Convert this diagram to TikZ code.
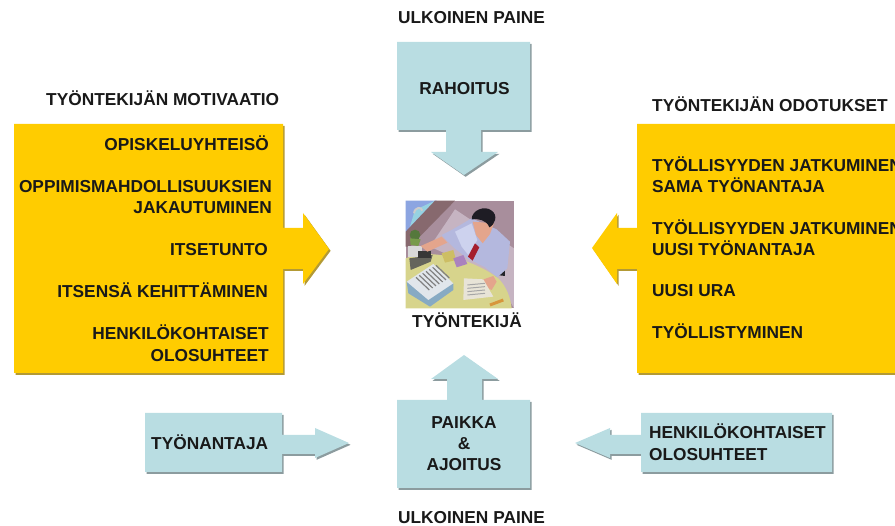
\documentclass[tikz,border=0pt]{standalone}
\usepackage{fontspec}
\setmainfont{Liberation Sans}
\definecolor{gold}{HTML}{FFCC00}
\definecolor{teal1}{HTML}{B9DDE2}
\definecolor{shadowgold}{HTML}{B39A35}
\definecolor{shadowteal}{HTML}{8C9C9F}
\tikzset{
  lbl/.style={font=\fontsize{17.3}{20}\selectfont\bfseries, inner sep=0pt, text=black!90, yshift=-0.4pt},
  goldshape/.style={fill=gold, draw=none},
  tealshape/.style={fill=teal1, draw=none},
  goldshadow/.style={fill=shadowgold, draw=none},
  tealshadow/.style={fill=shadowteal, draw=none},
}
\newcommand{\lshape}{(14,124) -- (283,124) -- (283,228) -- (303,228) -- (303,213) -- (329,249) -- (303,284) -- (303,269) -- (283,269) -- (283,373) -- (14,373) -- cycle}
\newcommand{\rshape}{(895,124) -- (637,124) -- (637,228) -- (617,228) -- (617,213) -- (592,248) -- (617,284) -- (617,269) -- (637,269) -- (637,373) -- (895,373) -- cycle}
\newcommand{\tshape}{(397,42) -- (530,42) -- (530,130) -- (481,130) -- (481,152) -- (498,152) -- (464,175) -- (431,152) -- (446,152) -- (446,130) -- (397,130) -- cycle}
\newcommand{\bshape}{(397,400) -- (447,400) -- (447,379) -- (431,379) -- (464,355) -- (498,379) -- (482,379) -- (482,400) -- (530,400) -- (530,488) -- (397,488) -- cycle}
\newcommand{\eshape}{(145,413) -- (282,413) -- (282,435) -- (315,435) -- (315,428) -- (349,443) -- (315,458) -- (315,454) -- (282,454) -- (282,472) -- (145,472) -- cycle}
\newcommand{\hshape}{(832,413) -- (641,413) -- (641,435) -- (610,435) -- (610,428) -- (575,443) -- (610,458) -- (610,454) -- (641,454) -- (641,472) -- (832,472) -- cycle}
\begin{document}
\begin{tikzpicture}[x=1pt,y=-1pt]
\useasboundingbox (0,0) rectangle (895,526);
% shapes
\begin{scope}[shift={(1.6,1.8)}]
  \fill[goldshadow] \lshape; \fill[goldshadow] \rshape;
  \fill[tealshadow] \tshape; \fill[tealshadow] \bshape;
  \fill[tealshadow] \eshape; \fill[tealshadow] \hshape;
\end{scope}
\fill[goldshape] \lshape; \fill[goldshape] \rshape;
\fill[tealshape] \tshape; \fill[tealshape] \bshape;
\fill[tealshape] \eshape; \fill[tealshape] \hshape;
% clip art
\begin{scope}[shift={(390,190)},x=0.3333pt,y=-0.3333pt]
  \clip (47,32) rectangle (372,355);
  \fill[fill={rgb,255:red,168;green,142;blue,156}] (47,32) rectangle (372,355);
  \fill[fill={rgb,255:red,198;green,180;blue,194}] (195,58) -- (372,175) -- (372,355) -- (320,260) -- (120,170) -- cycle;
  \fill[fill={rgb,255:red,140;green,165;blue,225}] (47,32) -- (140,32) -- (47,125) -- cycle;
  \fill[fill={rgb,255:red,150;green,210;blue,225}] (75,60) -- (135,32) -- (60,110) -- cycle;
  \fill[fill={rgb,255:red,135;green,105;blue,110}] (135,32) -- (195,32) -- (60,170) -- (47,170) -- (47,125) -- cycle;
  \fill[fill={rgb,255:red,215;green,212;blue,140}] (47,205) .. controls (130,170) and (260,215) .. (325,265) .. controls (350,290) and (362,325) .. (365,355) -- (47,355) -- cycle;
  % lamp curl
  \draw[line width=2pt,draw=white!80!black] (72,70) .. controls (75,50) and (95,50) .. (97,62);
  % plant and phone
  \fill[fill={rgb,255:red,85;green,120;blue,60}] (75,135) circle[radius=16];
  \fill[fill={rgb,255:red,120;green,155;blue,75}] (62,165) -- (60,145) -- (92,148) -- (85,168) -- cycle;
  \fill[fill=white!85!black] (55,168) rectangle (95,200);
  \fill[fill={rgb,255:red,100;green,100;blue,92}] (58,205) -- (128,195) -- (122,215) -- (62,240) -- cycle;
  \fill[fill={rgb,255:red,55;green,55;blue,55}] (85,182) rectangle (122,205);
  % man
  \fill[fill={rgb,255:red,35;green,35;blue,40}] (280,225) -- (345,205) -- (345,258) -- (320,255) -- cycle;
  \fill[fill={rgb,255:red,180;green,184;blue,222}] (155,135) -- (185,120) -- (245,85) -- (320,118) -- (360,155) -- (352,235) -- (322,262) -- (285,232) -- (232,205) -- (190,172) -- cycle;
  \fill[fill={rgb,255:red,205;green,210;blue,238}] (195,125) -- (245,100) -- (262,150) -- (235,195) -- (215,170) -- cycle;
  \fill[fill={rgb,255:red,228;green,165;blue,140}] (92,168) -- (155,140) -- (172,158) -- (112,185) -- cycle;
  \fill[fill={rgb,255:red,228;green,165;blue,140}] (248,95) -- (258,135) -- (278,160) -- (300,132) -- (312,100) -- cycle;
  \fill[fill={rgb,255:red,30;green,28;blue,36}] (245,88) .. controls (245,60) and (285,45) .. (305,62) .. controls (325,75) and (315,105) .. (298,112) .. controls (290,90) and (265,85) .. (245,88) -- cycle;
  \fill[fill={rgb,255:red,165;green,30;blue,45}] (255,160) -- (268,172) -- (248,212) -- (234,200) -- cycle;
  \fill[fill={rgb,255:red,228;green,165;blue,140}] (275,270) -- (310,258) -- (320,275) -- (305,300) -- (285,290) -- cycle;
  % notes on desk
  \fill[fill={rgb,255:red,205;green,190;blue,100}] (155,190) -- (190,180) -- (198,210) -- (165,218) -- cycle;
  \fill[fill={rgb,255:red,170;green,130;blue,190}] (190,205) -- (220,195) -- (232,222) -- (200,232) -- cycle;
  % book
  \fill[fill={rgb,255:red,135;green,170;blue,195}] (50,275) -- (55,310) -- (120,350) -- (190,300) -- (190,280) -- cycle;
  \fill[fill={rgb,255:red,225;green,230;blue,235}] (50,275) -- (130,222) -- (190,280) -- (115,330) -- cycle;
  \foreach \i in {0,1,...,6}
    \draw[line width=1.2pt,draw=black!50] ({78+\i*10},{262-\i*6}) -- ({118+\i*10},{300-\i*6});
  % paper and pencil
  \fill[fill={rgb,255:red,232;green,228;blue,215}] (222,265) -- (280,268) -- (310,320) -- (220,330) -- cycle;
  \foreach \i in {0,1,2,3}
    \draw[line width=1pt,draw=black!35] (232,{285+\i*10}) -- (285,{280+\i*10});
  \draw[line width=3pt,draw={rgb,255:red,215;green,150;blue,60}] (300,345) -- (340,330);
\end{scope}
% headers
\node[lbl,anchor=base] (topH) at (471.5,23) {ULKOINEN PAINE};
\node[lbl,anchor=base] (botH) at (471.5,523) {ULKOINEN PAINE};
\node[lbl,anchor=base west] (motH) at (46,105.5) {TYÖNTEKIJÄN MOTIVAATIO};
\node[lbl,anchor=base west] (odoH) at (652,111) {TYÖNTEKIJÄN ODOTUKSET};
% left
\node[lbl,anchor=base east] (l1) at (269,150.5) {OPISKELUYHTEISÖ};
\node[lbl,anchor=base east] (l2) at (272,192.5) {OPPIMISMAHDOLLISUUKSIEN};
\node[lbl,anchor=base east] (l3) at (272,213) {JAKAUTUMINEN};
\node[lbl,anchor=base east] (l4) at (268,255.5) {ITSETUNTO};
\node[lbl,anchor=base east] (l5) at (268,297.5) {ITSENSÄ KEHITTÄMINEN};
\node[lbl,anchor=base east] (l6) at (269,339) {HENKILÖKOHTAISET};
\node[lbl,anchor=base east] (l7) at (269,361) {OLOSUHTEET};
% right
\node[lbl,anchor=base west] (r1) at (652,171) {TYÖLLISYYDEN JATKUMINEN};
\node[lbl,anchor=base west] (r2) at (652,192.5) {SAMA TYÖNANTAJA};
\node[lbl,anchor=base west] (r3) at (652,234) {TYÖLLISYYDEN JATKUMINEN};
\node[lbl,anchor=base west] (r4) at (652,255.5) {UUSI TYÖNANTAJA};
\node[lbl,anchor=base west] (r5) at (652,296.5) {UUSI URA};
\node[lbl,anchor=base west] (r6) at (652,338.5) {TYÖLLISTYMINEN};
% centre
\node[lbl,anchor=base] (rah) at (464.5,94.5) {RAHOITUS};
\node[lbl,anchor=base] (emp) at (467,327.5) {TYÖNTEKIJÄ};
\node[lbl,anchor=base] (p1) at (464,428.5) {PAIKKA};
\node[lbl,anchor=base] (p2) at (464,449.5) {\&};
\node[lbl,anchor=base] (p3) at (464,470.5) {AJOITUS};
\node[lbl,anchor=base west] (tyo) at (151,449.5) {TYÖNANTAJA};
\node[lbl,anchor=base west] (h1) at (649,438.5) {HENKILÖKOHTAISET};
\node[lbl,anchor=base west] (h2) at (649,460.5) {OLOSUHTEET};
\end{tikzpicture}
\end{document}
